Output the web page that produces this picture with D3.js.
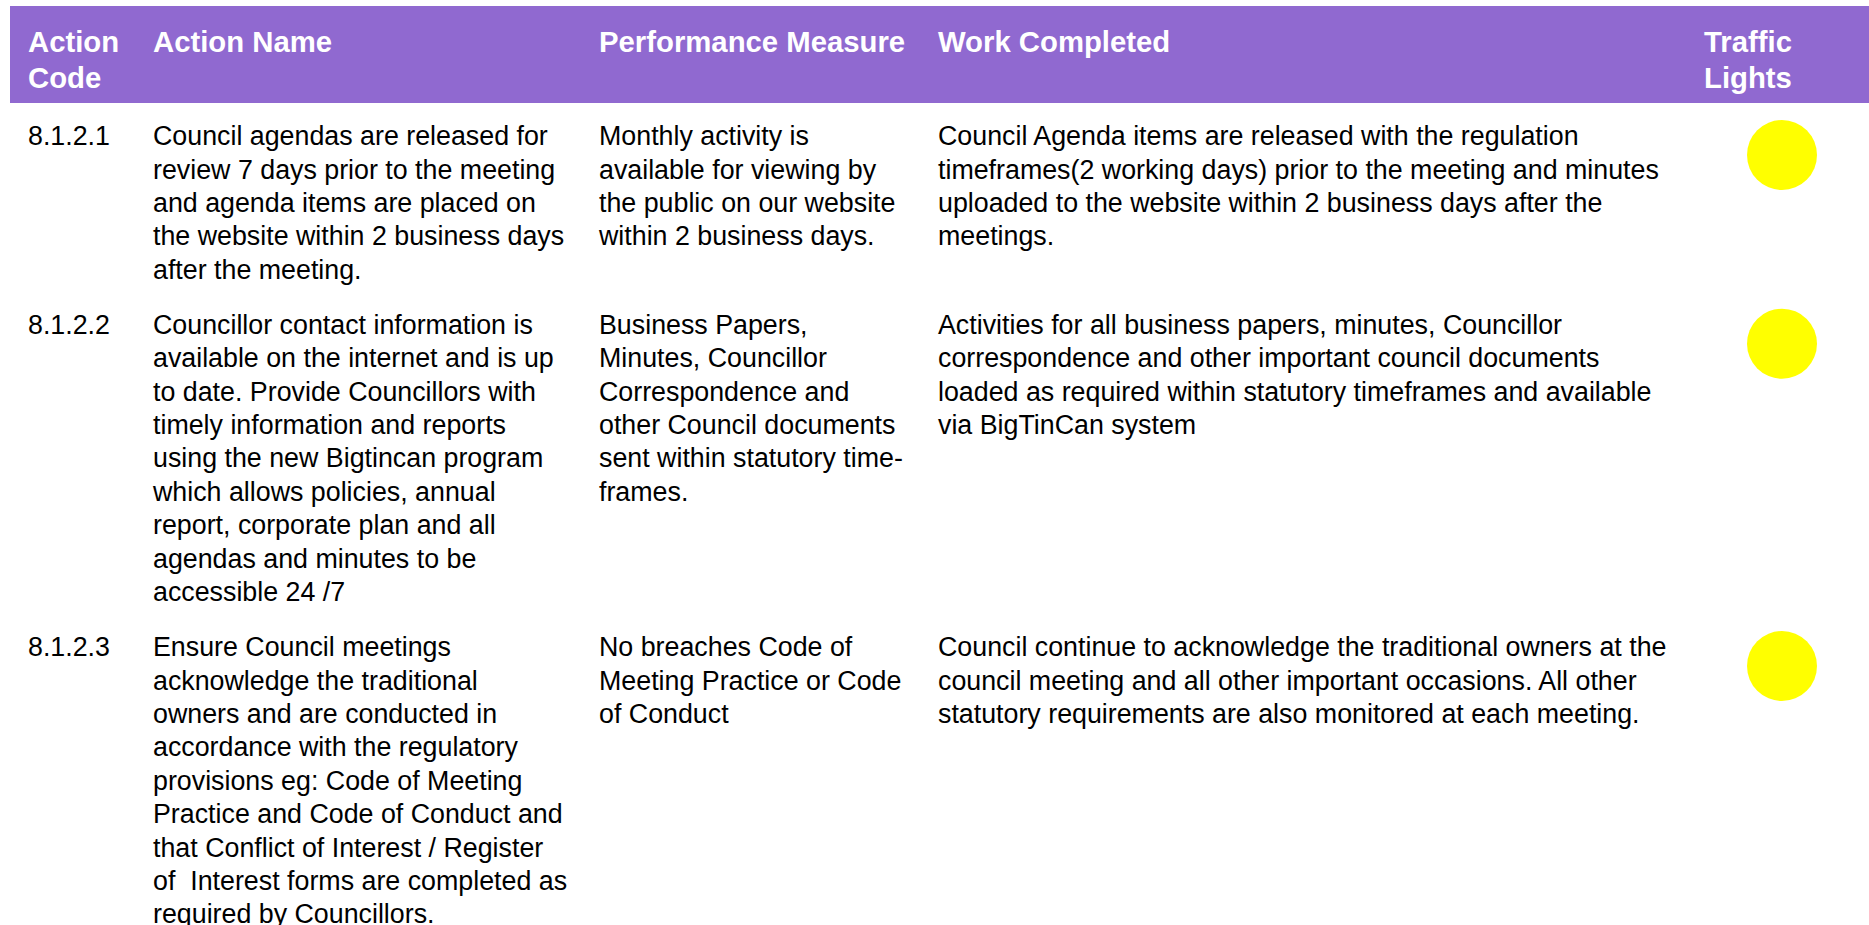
<!DOCTYPE html>
<html><head><meta charset="utf-8">
<script src="https://cdn.jsdelivr.net/npm/d3@7/dist/d3.min.js"></script>
<style>html,body{margin:0;padding:0;background:#fff;} svg{display:block} text{white-space:pre}</style>
</head><body>
<svg id="chart" width="1869" height="925"></svg>
<script>
// ---- data ----
const columnKeys = ["code", "name", "measure", "work", "light"];
const headerLabels = [["Action", "Code"], ["Action Name"], ["Performance Measure"], ["Work Completed"], ["Traffic", "Lights"]];
const actionCodes = ["8.1.2.1", "8.1.2.2", "8.1.2.3"];
const actionNames = [
  ["Council agendas are released for", "review 7 days prior to the meeting", "and agenda items are placed on", "the website within 2 business days", "after the meeting."],
  ["Councillor contact information is", "available on the internet and is up", "to date. Provide Councillors with", "timely information and reports", "using the new Bigtincan program", "which allows policies, annual", "report, corporate plan and all", "agendas and minutes to be", "accessible 24 /7"],
  ["Ensure Council meetings", "acknowledge the traditional", "owners and are conducted in", "accordance with the regulatory", "provisions eg: Code of Meeting", "Practice and Code of Conduct and", "that Conflict of Interest / Register", "of  Interest forms are completed as", "required by Councillors."]
];
const performanceMeasures = [
  ["Monthly activity is", "available for viewing by", "the public on our website", "within 2 business days."],
  ["Business Papers,", "Minutes, Councillor", "Correspondence and", "other Council documents", "sent within statutory time-", "frames."],
  ["No breaches Code of", "Meeting Practice or Code", "of Conduct"]
];
const workCompleted = [
  ["Council Agenda items are released with the regulation", "timeframes(2 working days) prior to the meeting and minutes", "uploaded to the website within 2 business days after the", "meetings."],
  ["Activities for all business papers, minutes, Councillor", "correspondence and other important council documents", "loaded as required within statutory timeframes and available", "via BigTinCan system"],
  ["Council continue to acknowledge the traditional owners at the", "council meeting and all other important occasions. All other", "statutory requirements are also monitored at each meeting."]
];
const trafficLights = ["#ffff00", "#ffff00", "#ffff00"];

// ---- layout ----
const W = 1869, H = 925;
const FONT = "'Liberation Sans', Arial, Helvetica, sans-serif";
const bodySize = 26.8, headSize = 29.3;
const lineH = 33.4, headLineH = 36;
const rowGap = 21.7;
const firstRowCenter = 136;

const svg = d3.select("#chart").attr("width", W).attr("height", H);

const colX = d3.scaleOrdinal().domain(columnKeys).range([28, 153, 599, 938, 1704]);
const lineY = d3.scaleLinear().domain([0, 1]).range([0, lineH]);

// header
const header = svg.append("g");
header.append("rect").attr("x", 10).attr("y", 6).attr("width", W - 10).attr("height", 97).attr("fill", "#9069d0");
const headY = d3.scaleLinear().domain([0, 1]).range([41.7, 41.7 + headLineH]);
header.selectAll("text").data(headerLabels).join("text")
  .attr("x", (d, i) => colX(columnKeys[i]))
  .attr("font-family", FONT).attr("font-size", headSize).attr("font-weight", "bold").attr("fill", "#fff")
  .each(function(d, i) {
    d3.select(this).selectAll("tspan").data(d).join("tspan")
      .attr("x", colX(columnKeys[i]))
      .attr("y", (t, j) => headY(j) + headSize * 0.36)
      .text(t => t);
  });

// rows
const rows = actionCodes.map((code, i) => ({
  code: [code], name: actionNames[i], measure: performanceMeasures[i], work: workCompleted[i], light: trafficLights[i]
}));
let cursor = firstRowCenter;
rows.forEach(r => {
  r.y = cursor;
  const n = d3.max(["code", "name", "measure", "work"], k => r[k].length);
  cursor += lineY(n) + rowGap;
});

const rowG = svg.selectAll("g.row").data(rows).join("g").attr("class", "row");
["code", "name", "measure", "work"].forEach(k => {
  rowG.append("text")
    .attr("font-family", FONT).attr("font-size", bodySize).attr("fill", "#000")
    .each(function(r) {
      d3.select(this).selectAll("tspan").data(r[k]).join("tspan")
        .attr("x", colX(k))
        .attr("y", (t, j) => r.y + lineY(j) + bodySize * 0.34)
        .text(t => t);
    });
});
rowG.append("circle")
  .attr("cx", 1782).attr("cy", r => r.y + 19).attr("r", 35)
  .attr("fill", r => r.light);
</script>
</body></html>
